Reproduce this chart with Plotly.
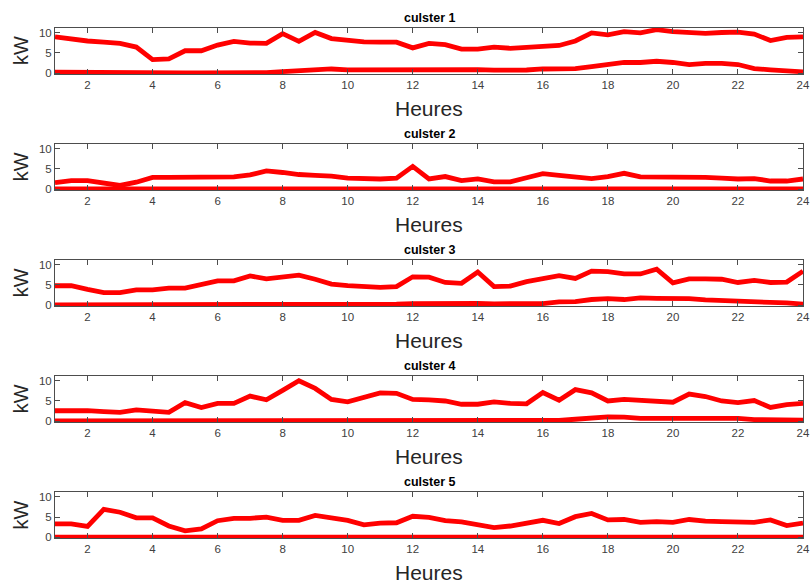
import plotly.graph_objects as go

hours = [1 + 0.5 * i for i in range(47)]

titles = ["culster 1", "culster 2", "culster 3", "culster 4", "culster 5"]

c1_high = [8.9, 8.3, 7.9, 7.6, 7.3, 6.4, 3.3, 3.5, 5.5, 5.5, 6.9, 7.8, 7.4, 7.3, 9.7, 7.8, 10.0, 8.5,
           8.0, 7.7, 7.6, 7.6, 6.2, 7.3, 7.0, 5.9, 5.9, 6.4, 6.1, 6.3, 6.4, 6.8, 7.9, 9.9, 9.4, 10.2,
           9.9, 10.7, 10.2, 9.9, 9.8, 10.0, 10.1, 9.6, 8.0, 8.8, 8.9]
c1_low = [0.2, 0.15, 0.1, 0.1, 0.05, 0.05, 0.05, 0.05, 0.05, 0.05, 0.05, 0.05, 0.05, 0.1, 0.35, 0.55,
          0.75, 1.0, 0.8, 0.8, 0.8, 0.85, 1.0, 1.0, 0.8, 0.85, 0.85, 0.7, 0.7, 0.75, 1.0, 1.0, 1.1,
          1.6, 2.0, 2.6, 2.6, 2.9, 2.6, 2.1, 2.4, 2.4, 2.1, 1.1, 0.8, 0.5, 0.3]

c2_high = [1.6, 2.1, 2.1, 1.6, 0.9, 1.7, 2.9, 2.9, 2.9, 2.9, 2.9, 3.0, 3.5, 4.5, 4.1, 3.6, 3.4, 3.2,
           2.7, 2.5, 2.5, 2.7, 5.6, 2.5, 3.1, 2.1, 2.5, 1.8, 1.8, 2.8, 3.8, 3.4, 3.1, 2.6, 3.1, 3.9,
           3.0, 3.0, 3.0, 2.9, 2.9, 2.7, 2.5, 2.6, 2.0, 2.0, 2.5]
c2_low = [0.05] * 47

c3_high = [4.8, 4.8, 3.9, 3.1, 3.1, 3.8, 3.8, 4.2, 4.2, 5.1, 6.0, 6.0, 7.2, 6.5, 6.9, 7.4, 6.4, 5.2,
           4.8, 4.6, 4.4, 4.6, 7.0, 6.9, 5.6, 5.4, 8.2, 4.6, 4.7, 5.8, 6.7, 7.3, 6.6, 8.4, 8.3, 7.7,
           7.7, 8.9, 5.5, 6.5, 6.5, 6.4, 5.6, 6.1, 5.6, 5.7, 8.4]
c3_low = [0.05, 0.05, 0.05, 0.05, 0.05, 0.05, 0.05, 0.05, 0.05, 0.05, 0.05, 0.05, 0.05, 0.05, 0.05,
          0.05, 0.05, 0.05, 0.05, 0.1, 0.2, 0.25, 0.4, 0.45, 0.35, 0.4, 0.45, 0.35, 0.35, 0.35, 0.4,
          0.8, 0.9, 1.4, 1.6, 1.4, 1.8, 1.7, 1.7, 1.6, 1.3, 1.2, 1.0, 0.8, 0.8, 0.55, 0.25]

c4_high = [2.6, 2.7, 2.6, 2.4, 2.2, 2.8, 2.5, 2.2, 4.6, 3.4, 4.4, 4.4, 6.2, 5.3, 7.6, 10.0, 8.1, 5.4,
           4.8, 5.9, 7.0, 6.9, 5.4, 5.3, 5.0, 4.2, 4.2, 4.8, 4.4, 4.3, 7.1, 5.2, 7.8, 7.0, 5.0, 5.4,
           5.2, 4.9, 4.7, 6.7, 6.1, 5.0, 4.6, 5.1, 3.4, 4.1, 4.4]
c4_low = [0.1, 0.1, 0.1, 0.1, 0.1, 0.1, 0.1, 0.1, 0.1, 0.1, 0.1, 0.1, 0.1, 0.1, 0.1, 0.15, 0.15,
          0.15, 0.15, 0.15, 0.2, 0.2, 0.3, 0.3, 0.3, 0.3, 0.3, 0.2, 0.3, 0.3, 0.3, 0.2, 0.5, 0.7,
          1.1, 1.0, 0.7, 0.7, 0.7, 0.7, 0.7, 0.7, 0.7, 0.4, 0.3, 0.3, 0.3]

c5_high = [3.3, 3.3, 2.7, 6.9, 6.2, 4.8, 4.8, 2.8, 1.6, 2.1, 4.1, 4.7, 4.7, 5.0, 4.2, 4.2, 5.4, 4.9,
           4.2, 3.1, 3.5, 3.6, 5.2, 4.9, 4.1, 3.8, 3.0, 2.4, 2.8, 3.6, 4.2, 3.4, 5.1, 5.9, 4.3, 4.4,
           3.7, 3.9, 3.7, 4.4, 4.0, 3.9, 3.7, 3.7, 4.3, 2.9, 3.5]
c5_low = [0.05] * 32 + [0.2, 0.2, 0.2, 0.2, 0.15, 0.15, 0.2, 0.25, 0.2, 0.1, 0.05, 0.05, 0.05, 0.05, 0.05]

series = [(c1_high, c1_low), (c2_high, c2_low), (c3_high, c3_low), (c4_high, c4_low), (c5_high, c5_low)]

x_ticks = list(range(2, 25, 2))
y_ticks = [0, 5, 10]

W, H = 810, 588
ML, MR = 55, 5
PW = W - ML - MR
tops = [27, 143, 259, 375, 491]
PH = 46
VS = 1.011  # vertical calibration

axis_col = "#4d4d4d"
tick_font = dict(family="Liberation Sans, Arial, sans-serif", size=11.5, color="#404040")

fig = go.Figure()
layout = dict(
    width=W, height=H, autosize=False,
    margin=dict(l=ML, r=MR, t=0, b=0, pad=0),
    paper_bgcolor="white", plot_bgcolor="white",
    showlegend=False,
)
annotations = []

def px_x(p):
    return (p - ML) / PW

def px_y(p):
    return 1 - p * VS / H

for i, (hi, lo) in enumerate(series):
    n = i + 1
    xa = "x" if n == 1 else f"x{n}"
    ya = "y" if n == 1 else f"y{n}"
    for vals in (hi, lo):
        fig.add_trace(go.Scatter(x=hours, y=vals, mode="lines", xaxis=xa, yaxis=ya,
                                 line=dict(color="#ff0000", width=4.8), hoverinfo="skip"))
    top, bot = tops[i], tops[i] + PH
    xkey = "xaxis" if n == 1 else f"xaxis{n}"
    ykey = "yaxis" if n == 1 else f"yaxis{n}"
    layout[xkey] = dict(domain=[0, 1], anchor=ya, range=[1, 24], tickvals=x_ticks,
                        ticks="inside", ticklen=5, tickcolor=axis_col, showline=True,
                        linecolor=axis_col, linewidth=1, mirror="ticks", showgrid=False,
                        zeroline=False, tickfont=tick_font, ticklabeloverflow="allow")
    layout[ykey] = dict(domain=[px_y(bot), px_y(top)], anchor=xa, range=[-0.25, 11.1],
                        tickvals=y_ticks, ticks="inside", ticklen=5, tickcolor=axis_col,
                        showline=True, linecolor=axis_col, linewidth=1, mirror="ticks",
                        showgrid=False, zeroline=False, tickfont=tick_font)
    annotations.append(dict(text=f"<b>{titles[i]}</b>", x=px_x(430), y=px_y(top - 10),
                            xref="paper", yref="paper", showarrow=False,
                            xanchor="center", yanchor="middle",
                            font=dict(family="Liberation Sans, Arial, sans-serif", size=12.5,
                                      color="black")))
    annotations.append(dict(text="Heures", x=px_x(430), y=px_y(bot + 34),
                            xref="paper", yref="paper", showarrow=False,
                            xanchor="center", yanchor="middle",
                            font=dict(family="Liberation Sans, Arial, sans-serif", size=21,
                                      color="#262626")))
    annotations.append(dict(text="kW", x=px_x(21), y=px_y(top + PH / 2),
                            xref="paper", yref="paper", showarrow=False, textangle=-90,
                            xanchor="center", yanchor="middle",
                            font=dict(family="Liberation Sans, Arial, sans-serif", size=20,
                                      color="#262626")))

layout["annotations"] = annotations
fig.update_layout(**layout)
fig.write_html("out.html",
               config={"responsive": False, "displayModeBar": False},
               post_script="document.body.style.margin='0';document.body.style.padding='0';"
                           "document.documentElement.style.overflow='hidden';")
